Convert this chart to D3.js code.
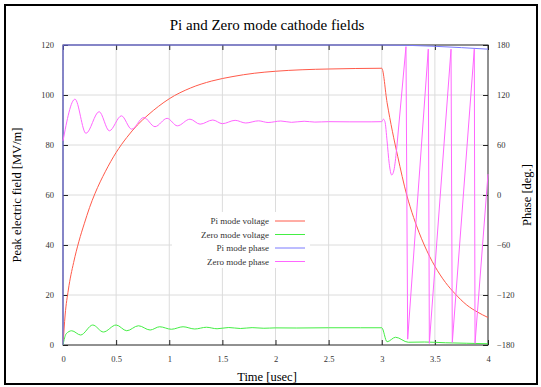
<!DOCTYPE html>
<html>
<head>
<meta charset="utf-8">
<script src="https://cdn.jsdelivr.net/npm/d3@7"></script>
<style>
  body { margin: 0; background: #fff; }
  svg { display: block; font-family: 'Liberation Serif', 'DejaVu Serif', serif; }
  .tick text { fill: #333; font-size: 8.5px; font-family: 'Liberation Serif', serif; }
  .grid line { stroke: #dcdcdc; stroke-width: 1; }
</style>
</head>
<body>
<svg id="chart" width="541" height="387"></svg>
<script>
// x ticks / y ticks
const xTicks = [0, 0.5, 1, 1.5, 2, 2.5, 3, 3.5, 4];
const yTicks = [0, 20, 40, 60, 80, 100, 120];
const y2Ticks = [-180, -120, -60, 0, 60, 120, 180];

// Pi mode voltage [MV/m]
const piVoltT = [0, 0.02, 0.05, 0.1, 0.15, 0.2, 0.25, 0.3, 0.4, 0.5, 0.6, 0.7, 0.8, 0.9, 1.0, 1.2, 1.4, 1.6, 1.8, 2.0, 2.25, 2.5,
  2.75, 3.0, 3.05, 3.1, 3.15, 3.235, 3.3, 3.4, 3.5, 3.6, 3.69, 3.8, 3.9, 4.0];
const piVolt = [0, 12, 22, 33, 41.5, 48.5, 55, 60.5, 69.5, 77, 83, 88, 92, 95.5, 98.5, 102.8, 105.6, 107.4, 108.7, 109.5, 110.1, 110.4,
  110.6, 110.7, 97, 85.5, 75.5, 60, 51, 40, 31.5, 25, 20.5, 16, 13.2, 11];

// Zero mode voltage [MV/m]
const zeroVoltT = [0, 0.03, 0.082, 0.166, 0.28, 0.38, 0.5, 0.6, 0.71, 0.82, 0.91, 1.02, 1.13, 1.24, 1.35, 1.45, 1.56, 1.67, 1.78,
  1.89, 2.0, 2.2, 2.5, 2.8, 3.0, 3.05, 3.13, 3.25, 3.4, 3.6, 3.8, 4.0];
const zeroVolt = [0, 4.5, 5.7, 4.0, 8.0, 5.2, 8.0, 5.7, 7.7, 6.0, 7.3, 6.3, 7.3, 6.4, 7.1, 6.5, 7.0, 6.6, 6.95,
  6.7, 6.85, 6.8, 6.9, 6.9, 6.9, 1.3, 3.1, 1.1, 1.2, 0.9, 0.7, 0.5];

// Pi mode phase [deg]
const piPhaseT = [0, 0.0005, 3.0, 4.0];
const piPhase = [-180, 180, 180, 175];

// Zero mode phase [deg]
const zeroPhaseT = [0, 0.113, 0.216, 0.34, 0.436, 0.55, 0.646, 0.76, 0.866, 0.98, 1.076, 1.195, 1.29, 1.41, 1.5, 1.62, 1.72,
  1.84, 1.93, 2.05, 2.15, 2.27, 2.37, 2.5, 2.7, 2.9, 3.0, 3.015, 3.03, 3.05, 3.07, 3.094, 3.115, 3.14, 3.228, 3.244,
  3.438, 3.448, 3.652, 3.664, 3.871, 3.878, 4.0];
const zeroPhase = [65, 115, 74, 100, 77, 95, 79, 93, 82, 92, 83, 91, 85, 90, 85.6, 89.6, 86.4,
  89, 87, 88.8, 87.2, 88.5, 87.5, 88, 87.8, 87.8, 88, 91, 88, 65, 38, 24, 30, 55, 178, -173,
  175, -178, 175, -177, 175, -178, 25];

// phase wraps after this time are drawn as straight segments
const wrapStart = 3.14;

const series = [
  { name: 'Pi mode voltage', t: piVoltT, v: piVolt, axis: 'y', color: '#ff5a4a' },
  { name: 'Zero mode voltage', t: zeroVoltT, v: zeroVolt, axis: 'y', color: '#44ee44' },
  { name: 'Pi mode phase', t: piPhaseT, v: piPhase, axis: 'y2', color: '#7a7aff' },
  { name: 'Zero mode phase', t: zeroPhaseT, v: zeroPhase, axis: 'y2', color: '#ff66ff' }
];

const svg = d3.select('#chart');
const plotLeft = 63, plotRight = 488, plotTop = 45, plotBottom = 345;

const x = d3.scaleLinear().domain([0, 4]).range([plotLeft, plotRight]);
const y = d3.scaleLinear().domain([0, 120]).range([plotBottom, plotTop]);
const y2 = d3.scaleLinear().domain([-180, 180]).range([plotBottom, plotTop]);

// outer frame
svg.append('rect')
  .attr('x', 5).attr('y', 5)
  .attr('width', 532).attr('height', 379)
  .attr('fill', 'none')
  .attr('stroke', '#000')
  .attr('stroke-width', 2);

// grid
const grid = svg.append('g').attr('class', 'grid');
grid.selectAll('line.gx')
  .data(xTicks.slice(1, -1))
  .enter()
  .append('line')
  .attr('x1', (d) => x(d)).attr('x2', (d) => x(d))
  .attr('y1', plotTop).attr('y2', plotBottom);
grid.selectAll('line.gy')
  .data(yTicks.slice(1, -1))
  .enter()
  .append('line')
  .attr('x1', plotLeft).attr('x2', plotRight)
  .attr('y1', (d) => y(d)).attr('y2', (d) => y(d));

// legend background hides grid behind it
svg.append('rect')
  .attr('x', 172).attr('y', 212)
  .attr('width', 138).attr('height', 56)
  .attr('fill', '#fff');

// axes with inward ticks
const tickLen = 5;
svg.append('g')
  .attr('transform', `translate(0,${plotBottom})`)
  .call(d3.axisBottom(x).tickValues(xTicks).tickFormat(d3.format('')).tickSizeInner(-tickLen).tickSizeOuter(0).tickPadding(11))
  .call((g) => g.select('.domain').remove());
svg.append('g')
  .attr('transform', `translate(0,${plotTop})`)
  .call(d3.axisTop(x).tickValues(xTicks).tickFormat('').tickSizeInner(-tickLen).tickSizeOuter(0))
  .call((g) => g.select('.domain').remove());
svg.append('g')
  .attr('transform', `translate(${plotLeft},0)`)
  .call(d3.axisLeft(y).tickValues(yTicks).tickSizeInner(-tickLen).tickSizeOuter(0).tickPadding(9))
  .call((g) => g.select('.domain').remove());
svg.append('g')
  .attr('transform', `translate(${plotRight},0)`)
  .call(d3.axisRight(y2).tickValues(y2Ticks).tickSizeInner(-tickLen).tickSizeOuter(0).tickPadding(9))
  .call((g) => g.select('.domain').remove());

svg.selectAll('.tick line').attr('stroke', '#222');

// plot border
svg.append('rect')
  .attr('x', plotLeft).attr('y', plotTop)
  .attr('width', plotRight - plotLeft).attr('height', plotBottom - plotTop)
  .attr('fill', 'none')
  .attr('stroke', '#222')
  .attr('stroke-width', 1);

// series lines: smooth before the phase wraps, straight after
const plot = svg.append('g');
series.forEach((s) => {
  const yScale = s.axis === 'y' ? y : y2;
  const pts = s.t.map((t, i) => [t, s.v[i]]);
  const smoothPts = s.name === 'Zero mode phase' ? pts.filter((d) => d[0] <= wrapStart) : pts;
  const straightPts = s.name === 'Zero mode phase' ? pts.filter((d) => d[0] >= wrapStart) : [];
  const smooth = d3.line().x((d) => x(d[0])).y((d) => yScale(d[1])).curve(d3.curveMonotoneX);
  const straight = d3.line().x((d) => x(d[0])).y((d) => yScale(d[1]));
  plot.append('path')
    .attr('d', smooth(smoothPts) + (straightPts.length ? straight(straightPts).replace('M', 'L') : ''))
    .attr('fill', 'none')
    .attr('stroke', s.color)
    .attr('stroke-width', 1);
});

// legend
const legend = svg.append('g').attr('class', 'legend');
series.forEach((s, i) => {
  const ly = 221 + i * 13.5;
  legend.append('text')
    .attr('x', 269).attr('y', ly + 3)
    .attr('text-anchor', 'end')
    .attr('fill', '#333')
    .style('font-size', '9px')
    .text(s.name);
  legend.append('line')
    .attr('x1', 275).attr('x2', 305)
    .attr('y1', ly).attr('y2', ly)
    .attr('stroke', s.color)
    .attr('stroke-width', 1);
});

// titles
svg.append('text')
  .attr('x', 267).attr('y', 30)
  .attr('text-anchor', 'middle')
  .style('font-size', '15px')
  .text('Pi and Zero mode cathode fields');

svg.append('text')
  .attr('x', 267).attr('y', 381)
  .attr('text-anchor', 'middle')
  .style('font-size', '12.5px')
  .text('Time [usec]');

svg.append('text')
  .attr('transform', 'translate(21,195) rotate(-90)')
  .attr('text-anchor', 'middle')
  .style('font-size', '12.5px')
  .text('Peak electric field [MV/m]');

svg.append('text')
  .attr('transform', 'translate(531,195) rotate(-90)')
  .attr('text-anchor', 'middle')
  .style('font-size', '12.5px')
  .text('Phase [deg.]');
</script>
</body>
</html>
